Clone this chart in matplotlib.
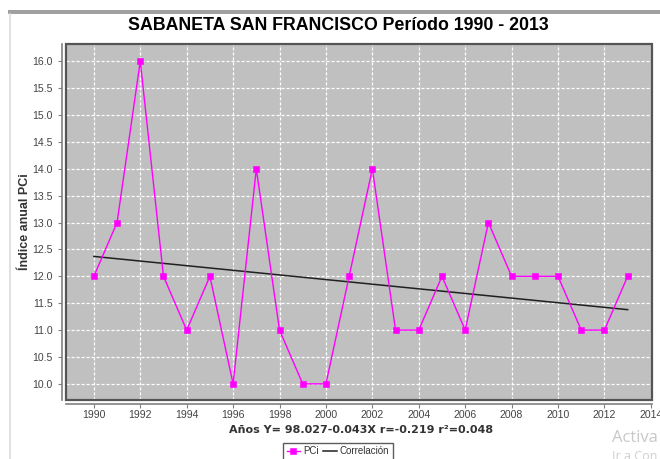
import matplotlib.pyplot as plt
import numpy as np
from matplotlib.patches import Rectangle
from matplotlib.lines import Line2D

# --- datos ---
years = [1990, 1991, 1992, 1993, 1994, 1995, 1996, 1997, 1998, 1999, 2000, 2001,
         2002, 2003, 2004, 2005, 2006, 2007, 2008, 2009, 2010, 2011, 2012, 2013]
pci = [12, 13, 16, 12, 11, 12, 10, 14, 11, 10, 10, 12,
       14, 11, 11, 12, 11, 13, 12, 12, 12, 11, 11, 12]

title = 'SABANETA SAN FRANCISCO Período 1990 - 2013'
ylabel = 'Índice anual PCi'
xlabel = 'Años Y= 98.027-0.043X r=-0.219 r²=0.048'

plt.rcParams['font.family'] = ['Liberation Sans', 'DejaVu Sans']

fig = plt.figure(figsize=(6.6, 4.59), dpi=100)
fig.patch.set_facecolor('white')

# marco de la captura
fig.add_artist(Rectangle((8 / 660, 1 - 14 / 459), 652 / 660, 4 / 459,
                         transform=fig.transFigure, color='#a0a0a0', lw=0))
fig.add_artist(Line2D([9.5 / 660, 9.5 / 660], [0, 1 - 14 / 459],
                      transform=fig.transFigure, color='#dcdcdc', lw=1.2))

ax = fig.add_axes([66 / 660, 1 - 400 / 459, 586 / 660, 356 / 459])
ax.set_facecolor('#c0c0c0')

x = np.array(years)
y = np.array(pci)

ax.plot(x, y, color='#ff00ff', lw=1, marker='s', ms=4.6, mew=0.4, mec='#ff00ff',
        mfc='#ff00ff', label='PCi', zorder=3)

# recta de regresion
slope, intercept = np.polyfit(x, y, 1)
ax.plot(x[[0, -1]], intercept + slope * x[[0, -1]], color='#202020', lw=1.1,
        label='Correlación', zorder=2)

ax.set_xlim(1988.8, 2014.05)
ax.set_ylim(9.70, 16.32)
ax.set_xticks(np.arange(1990, 2015, 2))
ax.set_yticks(np.arange(10, 16.01, 0.5))
ax.set_yticklabels([f'{v:.1f}' for v in np.arange(10, 16.01, 0.5)])

ax.grid(True, color='white', ls=(0, (2.5, 1.5)), lw=0.9)
ax.set_axisbelow(True)

for side in ['top', 'right']:
    ax.spines[side].set_visible(False)
for side in ['left', 'bottom']:
    ax.spines[side].set_position(('outward', 3))
    ax.spines[side].set_color('#808080')
    ax.spines[side].set_linewidth(1.2)

# borde del area de trazado
ax.add_patch(Rectangle((0, 0), 1, 1, transform=ax.transAxes, fill=False,
                       edgecolor='#555555', lw=1.6, clip_on=False, zorder=5))

ax.tick_params(axis='both', colors='#808080', labelcolor='#444444',
               labelsize=7.6, length=3, width=0.8)
ax.tick_params(axis='x', pad=1.5)

fig.text(338 / 660, 1 - 26 / 459, title, fontsize=12.8, fontweight='bold',
         ha='center', va='center')
ax.set_ylabel(ylabel, fontsize=9, fontweight='bold', color='#333333', va='center')
ax.yaxis.set_label_coords((25 - 66) / 586, 0.5)
ax.set_xlabel(xlabel, fontsize=8, fontweight='bold', color='#333333',
              family='DejaVu Sans', va='center')
ax.xaxis.set_label_coords((361 - 66) / 586, (400 - 430) / 356)

leg = fig.legend(loc='upper center', bbox_to_anchor=(338 / 660, 1 - 443 / 459),
                 ncol=2, fontsize=7, frameon=True, fancybox=False,
                 borderpad=0.35, handlelength=1.4, handletextpad=0.3,
                 columnspacing=0.5, borderaxespad=0)
leg.get_frame().set_edgecolor('#333333')
leg.get_frame().set_linewidth(1)
for t in leg.get_texts():
    t.set_color('#333333')

# marca de agua de Windows
fig.text(612 / 660, 1 - 438 / 459, 'Activa', fontsize=12, color='#c8c8c8',
         family='Open Sans', va='center')
fig.text(612 / 660, 1 - 457 / 459, 'Ir a Con', fontsize=9, color='#d0d0d0',
         family='Open Sans', va='center')

fig.savefig('out.png', dpi=100)
